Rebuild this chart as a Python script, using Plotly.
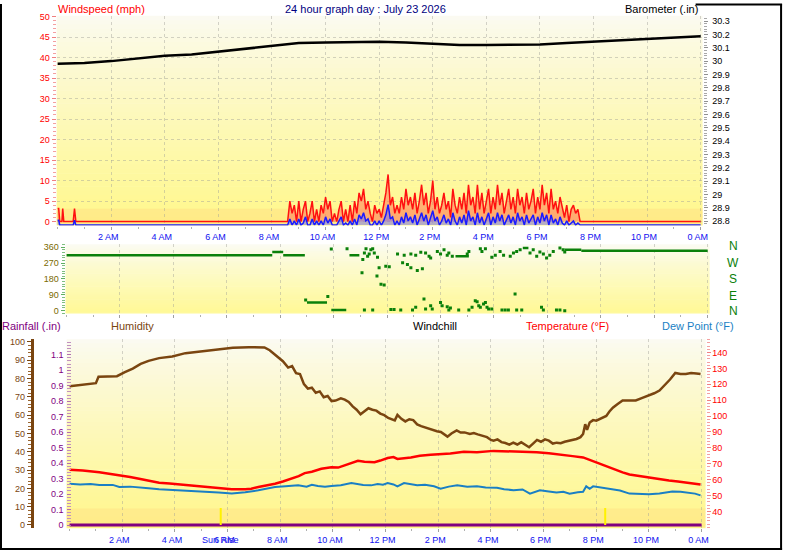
import plotly.graph_objects as go

W, H = 798, 554

# ---------------- data ----------------
hour_ticks = [2, 4, 6, 8, 10, 12, 14, 16, 18, 20, 22, 24]
hour_labels = ["2 AM", "4 AM", "6 AM", "8 AM", "10 AM", "12 PM",
               "2 PM", "4 PM", "6 PM", "8 PM", "10 PM", "0 AM"]

wind_ticks = [0, 5, 10, 15, 20, 25, 30, 35, 40, 45, 50]
baro_ticks = [28.8, 28.9, 29.0, 29.1, 29.2, 29.3, 29.4, 29.5, 29.6, 29.7,
              29.8, 29.9, 30.0, 30.1, 30.2, 30.3]
baro_tick_labels = ["28.8", "28.9", "29", "29.1", "29.2", "29.3", "29.4", "29.5",
                    "29.6", "29.7", "29.8", "29.9", "30", "30.1", "30.2", "30.3"]
dir_ticks = [0, 90, 180, 270, 360]
rain_ticks = [0, 0.1, 0.2, 0.3, 0.4, 0.5, 0.6, 0.7, 0.8, 0.9, 1.0, 1.1]
rain_tick_labels = ["0", "0.1", "0.2", "0.3", "0.4", "0.5", "0.6", "0.7", "0.8",
                    "0.9", "1", "1.1"]
hum_ticks = [0, 10, 20, 30, 40, 50, 60, 70, 80, 90, 100]
temp_ticks = [40, 50, 60, 70, 80, 90, 100, 110, 120, 130, 140]

baro_hours = list(range(25))
baro_vals = [29.98, 29.985, 30.00, 30.02, 30.04, 30.05, 30.07, 30.09, 30.11,
             30.135, 30.14, 30.145, 30.145, 30.14, 30.13, 30.12, 30.12, 30.12,
             30.125, 30.135, 30.145, 30.16, 30.17, 30.18, 30.187]

# wind speed (mph): early readings, then 5-minute readings from 8:30, then calm
wind_early_hours = [0.0, 0.04, 0.08, 0.16, 0.19, 0.23, 0.3, 0.58, 0.63, 0.68, 0.75]
gust_early = [3.2, 3.2, 0, 0, 3.2, 0, 0, 0, 3.2, 0, 0]
avg_early = [1.2, 1.2, 0, 0, 0, 0, 0, 0, 1.2, 0, 0]

wind_day_start = 8.5
gust_day = [
    0, 0, 5, 2, 4, 0,
    5, 0, 3, 5, 0, 2, 5, 0, 3, 0, 4, 2,
    6, 3, 5, 0, 2, 0, 3, 5, 0, 3, 0, 4,
    0, 5, 2, 7, 5, 8, 3, 5, 2, 0, 4, 2,
    3, 1, 4, 7, 11.5, 4, 6, 2, 4, 2, 6, 3,
    8, 4, 6, 3, 7, 2, 5, 9, 4, 7, 2, 5,
    10, 3, 6, 2, 4, 7, 3, 5, 1, 8, 4, 2,
    6, 3, 7, 2, 9, 4, 6, 2, 9, 3, 7, 2,
    5, 8, 2, 6, 3, 9, 4, 7, 2, 5, 8, 3,
    6, 2, 8, 4, 6, 2, 7, 3, 5, 8, 2, 6,
    3, 9, 4, 7, 2, 8, 3, 5, 2, 6, 3, 1,
    4, 0, 3, 4, 2, 3, 0, 0,
]
avg_day = [
    0, 0, 1.5, 0, 1, 0,
    1.5, 0, 0.5, 2, 0, 0, 1.5, 0, 1, 0, 1, 0,
    2, 0.5, 1.5, 0, 0, 0, 1, 2, 0, 0.5, 0, 1,
    0, 1.5, 0, 2.5, 1.5, 3, 1, 1.5, 0, 0, 1, 0,
    1, 0, 1, 2.5, 5, 1.5, 2, 0, 1, 0, 2, 0.5,
    3, 1, 2, 0.5, 2.5, 0, 1.5, 3, 1, 2.5, 0, 1.5,
    3.5, 1, 2, 0, 1, 2.5, 0.5, 1.5, 0, 3, 1, 0,
    2, 0.5, 2.5, 0, 3.5, 1, 2, 0, 3, 0.5, 2, 0,
    1.5, 3, 0, 2, 0.5, 3, 1, 2.5, 0, 1.5, 2.5, 0.5,
    2, 0, 3, 1, 2, 0, 2.5, 0.5, 1.5, 2.5, 0, 2,
    0.5, 3, 1, 2.5, 0, 2.5, 0.5, 1.5, 0, 2, 0.5, 0,
    1, 0, 0.5, 1, 0, 0.5, 0, 0,
]
wind_late_hours = [19.65, 24.0]
gust_late = [0, 0]
avg_late = [0, 0]

# wind direction (degrees): steady segments and scattered readings
dir_seg_start = [0.0, 7.70, 8.11, 9.0, 9.91, 10.59, 14.56, 17.08, 18.65, 19.27]
dir_seg_end = [7.70, 8.11, 8.92, 9.75, 10.47, 10.96, 15.06, 17.29, 19.27, 24.0]
dir_seg_deg = [315, 334, 315, 47, 4, 315, 309, 356, 347, 341]

dir_dot_hours = [
    8.95, 9.78, 9.91, 10.50, 11.06, 11.09, 11.15, 11.21, 11.27, 11.33, 11.39,
    11.46, 11.52, 11.64, 11.62, 11.70, 11.77, 11.89, 11.95, 12.08, 11.15, 11.46,
    12.14, 12.26,
    12.39, 12.58, 12.64, 12.76, 12.89, 12.89, 13.07, 13.13, 13.26, 13.32, 13.44,
    13.57, 13.63, 13.88, 14.00, 14.13, 14.25, 14.31, 14.44, 15.00, 15.06, 15.49,
    15.55, 15.68, 15.92, 16.05, 16.23, 16.36, 16.61, 16.73, 16.85, 16.98, 17.35,
    17.47, 17.60, 17.72, 17.85, 17.97, 18.09, 18.22, 18.47, 18.59, 18.65,
    12.51, 12.95, 13.07, 13.38, 13.44, 13.63, 13.69, 14.00, 14.06, 14.25, 14.31,
    14.37, 14.68, 15.06, 15.18, 15.30, 15.37, 15.43, 15.49, 15.61, 15.68, 15.74,
    15.80, 15.92, 16.30, 16.42, 16.54, 16.79, 16.85, 17.04, 17.78, 17.85, 18.34,
    18.47, 18.65,
]
dir_dot_degs = [
    60, 80, 351, 352, 216, 291, 328, 352, 309, 322, 347,
    352, 328, 304, 197, 244, 150, 146, 253, 249, 4, 4,
    7, 7,
    322, 272, 315, 262, 322, 244, 315, 229, 332, 238, 328,
    309, 300, 337, 322, 347, 315, 328, 309, 322, 337, 352,
    337, 352, 304, 315, 337, 315, 309, 328, 337, 347, 328,
    347, 309, 334, 322, 300, 315, 337, 356, 347, 334,
    4, 4, 19, 66, 9, 28, 9, 47, 28, 22, 4,
    15, 4, 4, 19, 56, 51, 28, 19, 38, 47, 19,
    9, 9, 4, 4, 4, 94, 4, 4, 19, 4, 4,
    4, 0,
]

rain_hours = [0, 24]
rain_vals = [0, 0]

hum_hours = [
    0.0, 0.25, 0.5, 0.75, 1.0, 1.1, 1.5, 1.8, 2.1, 2.4, 2.7, 3.0, 3.4, 3.9, 4.4,
    4.9, 5.3, 5.7, 6.2, 6.8, 7.4, 7.6, 7.9, 8.1, 8.3, 8.45, 8.6, 8.75, 8.9, 9.05,
    9.2, 9.35, 9.5, 9.65, 9.8, 9.95, 10.1, 10.3, 10.45, 10.6, 10.75, 10.9, 11.05,
    11.2, 11.35, 11.5, 11.65, 11.8, 11.95, 12.1, 12.25, 12.35, 12.45, 12.6, 12.75,
    12.9, 13.05, 13.2, 13.35, 13.5, 13.65, 13.8, 13.95, 14.1, 14.25, 14.35, 14.5,
    14.7, 14.85, 15.0, 15.2, 15.35, 15.5, 15.7, 15.85, 16.0, 16.1, 16.25, 16.4,
    16.55, 16.7, 16.85, 17.0, 17.15, 17.3, 17.45, 17.6, 17.75, 17.9, 18.05, 18.2,
    18.35, 18.5, 18.65, 18.8, 18.95, 19.1, 19.25, 19.4, 19.5, 19.58, 19.65, 19.75,
    19.88, 20.0, 20.2, 20.38, 20.5, 20.63, 20.8, 21.0, 21.13, 21.5, 21.75, 22.0,
    22.2, 22.4, 22.64, 22.8, 23.0, 23.2, 23.4, 23.6, 23.8, 23.96,
]
hum_vals = [
    75.8, 76.2, 76.8, 77.3, 77.5, 81.0, 81.3, 81.3, 83.5, 85.5, 88.0, 89.7, 91.2, 92.1, 93.9,
    94.8, 95.2, 96.0, 96.9, 97.2, 97.0, 95.5, 92.1, 89.5, 86.0, 86.8, 83.0, 82.5, 77.0, 74.5,
    75.0, 72.3, 73.0, 69.8, 70.5, 67.7, 68.0, 69.2, 68.5, 67.2, 64.8, 63.0, 60.5,
    62.0, 63.8, 63.0, 62.5, 60.9, 60.0, 58.5, 57.5, 57.2, 60.2, 58.0, 56.6,
    57.8, 57.3, 55.0, 54.0, 53.3, 52.5, 51.6, 51.2, 50.8, 49.0, 48.3, 50.0,
    51.7, 50.5, 50.6, 49.7, 50.2, 49.5, 48.8, 48.0, 46.5, 46.1, 46.8, 45.3,
    44.8, 43.9, 45.0, 44.0, 45.2, 44.0, 42.5, 44.5, 46.5, 45.5, 46.8, 46.1,
    44.5, 45.0, 44.7, 45.5, 46.0, 46.5, 47.0, 48.0, 49.7, 55.1, 52.0, 56.0,
    57.3, 57.0, 58.5, 59.6, 62.0, 64.1, 66.0, 68.0, 68.1, 68.1, 69.5, 70.8,
    72.0, 73.5, 76.8, 79.5, 83.1, 82.5, 82.5, 83.0, 82.8, 82.5,
]

temp_hours = [
    0, 0.5, 1.13, 1.5, 1.89, 2.3, 2.64, 3.0, 3.4, 3.8, 4.15, 4.5, 4.9, 5.3, 5.66,
    6.16, 6.67, 6.9, 7.17, 7.5, 7.8, 8.1, 8.43, 8.7, 8.93, 9.2, 9.56, 9.94, 10.2,
    10.57, 10.8, 10.95, 11.2, 11.58, 11.8, 12.08, 12.3, 12.45, 12.96, 13.3, 13.71,
    14.1, 14.46, 14.97, 15.47, 16.1, 16.5, 16.86, 17.3, 17.74, 18.2, 18.75, 19.1,
    19.5, 19.75, 20.0, 20.3, 20.63, 21.0, 21.26, 21.6, 22.0, 22.4, 22.76, 23.1,
    23.5, 23.96,
]
temp_vals = [
    66.3, 65.8, 64.7, 63.8, 62.6, 61.6, 60.5, 59.3, 58.0, 57.5, 57.0, 56.4, 55.7, 55.1, 54.5,
    53.9, 53.9, 54.3, 55.4, 56.2, 57.4, 58.8, 60.5, 62.2, 64.1, 65.0, 66.8, 67.8, 67.6,
    69.9, 71.0, 71.9, 71.3, 70.9, 72.0, 73.6, 74.2, 73.0, 74.0, 75.0, 75.7,
    76.0, 76.5, 77.5, 77.2, 78.1, 77.9, 77.8, 77.5, 77.2, 76.6, 75.3, 74.8,
    74.0, 72.6, 70.9, 69.0, 66.8, 64.6, 63.2, 62.3, 61.2, 60.3, 59.5, 58.8,
    57.8, 57.0,
]

dew_hours = [
    0, 0.4, 0.8, 1.13, 1.64, 1.89, 2.3, 2.64, 3.0, 3.4, 3.8, 4.15, 4.5, 4.9, 5.3,
    5.66, 6.16, 6.67, 7.17, 7.5, 7.8, 8.2, 8.68, 9.0, 9.2, 9.43, 9.7, 9.94, 10.3,
    10.7, 10.9, 11.15, 11.45, 11.7, 11.9, 12.08, 12.3, 12.45, 12.7, 13.0, 13.2,
    13.5, 13.84, 14.09, 14.4, 14.72, 15.1, 15.47, 15.8, 16.23, 16.5, 16.86, 17.2,
    17.48, 17.86, 18.2, 18.49, 18.75, 18.99, 19.3, 19.5, 19.62, 19.75, 19.88,
    20.1, 20.5, 20.9, 21.26, 21.6, 22.0, 22.4, 22.89, 23.2, 23.5, 23.75, 23.96,
]
dew_vals = [
    57.4, 57.0, 57.2, 56.6, 56.7, 55.4, 55.6, 54.9, 54.6, 53.9, 53.6, 52.9, 52.8, 52.3, 52.2,
    51.9, 51.2, 52.0, 53.3, 54.2, 55.4, 55.9, 56.4, 55.6, 56.8, 56.0, 55.5, 56.0, 56.5,
    57.8, 57.2, 56.6, 56.4, 57.2, 56.8, 57.8, 57.0, 55.8, 57.8, 57.0, 56.4,
    56.8, 55.8, 54.3, 55.6, 56.4, 55.5, 55.8, 55.0, 54.9, 54.0, 53.3, 53.8,
    51.2, 53.3, 52.6, 51.9, 52.3, 51.2, 52.0, 52.3, 55.8, 54.3, 55.8,
    55.2, 54.3, 53.2, 51.2, 51.0, 50.8, 51.3, 52.6, 52.4, 51.6, 51.2, 50.1,
]

sun_rise_hour = 5.74
sun_set_hour = 20.34
sun_mark_height = 0.11

# ---------------- helpers ----------------
def fx(p):
    return p / W


def fy(p):
    return 1 - p / H


FONT = "Liberation Sans, Arial, sans-serif"
fig = go.Figure()


def gradient(x0, x1, y0, y1, ctop, cbot, n=48):
    for i in range(n):
        t = i / (n - 1)
        t = t ** 0.85
        c = [round(ctop[k] + (cbot[k] - ctop[k]) * t) for k in range(3)]
        ya = y0 + (y1 - y0) * i / n
        yb = y0 + (y1 - y0) * (i + 1) / n + 0.6
        fig.add_shape(type="rect", xref="paper", yref="paper",
                      x0=fx(x0), x1=fx(x1), y0=fy(min(yb, y1)), y1=fy(ya),
                      fillcolor="rgb(%d,%d,%d)" % tuple(c), line_width=0,
                      layer="below")


TOP = (57, 707, 12, 224)
MID = (66, 714, 243, 313)
BOT = (67, 710, 339, 530)

gradient(TOP[0], TOP[1], TOP[2], TOP[3], (251, 250, 241), (255, 248, 140))
gradient(MID[0], MID[1], MID[2], MID[3], (251, 251, 242), (255, 249, 150))
gradient(BOT[0], BOT[1], BOT[2], BOT[3], (251, 250, 241), (255, 247, 140))
# dithered orange bands near the base of top and bottom panels
fig.add_shape(type="rect", xref="paper", yref="paper", x0=fx(TOP[0]), x1=fx(TOP[1]),
              y0=fy(223), y1=fy(207), fillcolor="rgba(255,200,120,0.28)",
              line_width=0, layer="below")
fig.add_shape(type="rect", xref="paper", yref="paper", x0=fx(BOT[0]), x1=fx(BOT[1]),
              y0=fy(529), y1=fy(510), fillcolor="rgba(255,200,120,0.22)",
              line_width=0, layer="below")

# ---------------- traces ----------------
wind_day_hours = [wind_day_start + i / 12 for i in range(len(gust_day))]
wind_hours = wind_early_hours + wind_day_hours + wind_late_hours
gust_vals = gust_early + gust_day + gust_late
avg_vals = avg_early + avg_day + avg_late

fig.add_trace(go.Scatter(x=wind_hours, y=gust_vals, xaxis="x", yaxis="y",
                         mode="lines", line=dict(color="#FF1010", width=1.5),
                         fill="tozeroy", fillcolor="rgba(255,120,90,0.55)",
                         hoverinfo="skip"))
fig.add_trace(go.Scatter(x=wind_hours, y=avg_vals, xaxis="x", yaxis="y3",
                         mode="lines", line=dict(color="#1A1AFF", width=1.5),
                         fill="tozeroy", fillcolor="rgba(110,110,255,0.5)",
                         hoverinfo="skip"))
fig.add_trace(go.Scatter(x=baro_hours, y=baro_vals, xaxis="x", yaxis="y2",
                         mode="lines", line=dict(color="#000000", width=2.5),
                         hoverinfo="skip"))

seg_x, seg_y = [], []
for s, e, d in zip(dir_seg_start, dir_seg_end, dir_seg_deg):
    seg_x += [s, e, None]
    seg_y += [d, d, None]
fig.add_trace(go.Scatter(x=seg_x, y=seg_y, xaxis="x2", yaxis="y4", mode="lines",
                         line=dict(color="#0A800A", width=2.5), connectgaps=False,
                         hoverinfo="skip"))
fig.add_trace(go.Scatter(x=dir_dot_hours, y=dir_dot_degs, xaxis="x2", yaxis="y4",
                         mode="markers",
                         marker=dict(color="#0A800A", size=3, symbol="square"),
                         hoverinfo="skip"))

fig.add_trace(go.Scatter(x=rain_hours, y=rain_vals, xaxis="x3", yaxis="y5",
                         mode="lines", line=dict(color="#800080", width=3),
                         hoverinfo="skip"))
for h in (sun_rise_hour, sun_set_hour):
    fig.add_trace(go.Scatter(x=[h, h], y=[0, sun_mark_height], xaxis="x3", yaxis="y5",
                             mode="lines", line=dict(color="#FFF200", width=2),
                             hoverinfo="skip"))
fig.add_trace(go.Scatter(x=hum_hours, y=hum_vals, xaxis="x3", yaxis="y6",
                         mode="lines", line=dict(color="#7A4510", width=2.5),
                         hoverinfo="skip"))
fig.add_trace(go.Scatter(x=temp_hours, y=temp_vals, xaxis="x3", yaxis="y7",
                         mode="lines", line=dict(color="#FF0000", width=2.5),
                         hoverinfo="skip"))
fig.add_trace(go.Scatter(x=dew_hours, y=dew_vals, xaxis="x3", yaxis="y7",
                         mode="lines", line=dict(color="#1A7FC4", width=2),
                         hoverinfo="skip"))

# ---------------- axes ----------------
GRID = "rgba(160,160,150,0.45)"


def xcommon(labels=True):
    return dict(tickmode="array", tickvals=hour_ticks, ticktext=hour_labels,
                showticklabels=labels,
                tickfont=dict(family=FONT, size=9, color="#1010F0"),
                ticks="outside", ticklen=3, tickcolor="#A0A0A0",
                minor=dict(ticks="outside", dtick=1, tick0=0, ticklen=2,
                           tickcolor="#B0B0B0", showgrid=False),
                showgrid=True, gridcolor=GRID, griddash="dot", gridwidth=1,
                zeroline=False, showline=False, fixedrange=True,
                ticklabelshift=-3)


fig.update_layout(
    width=W, height=H, margin=dict(l=0, r=0, t=0, b=0),
    paper_bgcolor="white", plot_bgcolor="rgba(0,0,0,0)", showlegend=False,
    font=dict(family=FONT),
    xaxis=dict(domain=[fx(TOP[0]), fx(TOP[1])], range=[-0.037, 24.07], anchor="y",
               **xcommon(True)),
    yaxis=dict(domain=[fy(TOP[3]), fy(TOP[2])], range=[-0.965, 50.17], anchor="x",
               tickmode="array", tickvals=wind_ticks,
               tickfont=dict(family=FONT, size=9, color="#FF0000"),
               ticks="outside", ticklen=4, tickcolor="#F08080",
               minor=dict(ticks="outside", dtick=1, tick0=0, ticklen=3,
                          tickcolor="#F4A0A0", showgrid=False),
               showgrid=True, gridcolor=GRID, griddash="dot",
               zeroline=False, showline=False),
    yaxis2=dict(overlaying="y", side="right", anchor="x", range=[28.768, 30.339],
                tickmode="array", tickvals=baro_ticks, ticktext=baro_tick_labels,
                tickfont=dict(family=FONT, size=9, color="#000000"),
                ticks="outside", ticklen=4, tickcolor="#909090",
                minor=dict(ticks="outside", dtick=0.02, tick0=28.8, ticklen=3,
                           tickcolor="#A8A8A8", showgrid=False),
                showgrid=False, zeroline=False, showline=False,
                ticklabelstandoff=3),
    yaxis3=dict(overlaying="y", anchor="x", range=[-0.12, 51.0], visible=False),
    xaxis2=dict(domain=[fx(MID[0]), fx(MID[1])], range=[-0.037, 24.07], anchor="y4",
                **xcommon(False)),
    yaxis4=dict(domain=[fy(MID[3]), fy(MID[2])], range=[-16.9, 376.9], anchor="x2",
                tickmode="array", tickvals=dir_ticks,
                tickfont=dict(family=FONT, size=9, color="#7A6A00"),
                ticks="outside", ticklen=4, tickcolor="#5FAF5F",
                minor=dict(ticks="outside", dtick=15, tick0=0, ticklen=3,
                           tickcolor="#7FBF7F", showgrid=False),
                showgrid=False, zeroline=False, showline=False),
    xaxis3=dict(domain=[fx(BOT[0]), fx(BOT[1])], range=[-0.113, 24.15], anchor="y5",
                **xcommon(True)),
    yaxis5=dict(domain=[fy(BOT[3]), fy(BOT[2])], range=[-0.021, 1.2], anchor="x3",
                tickmode="array", tickvals=rain_ticks, ticktext=rain_tick_labels,
                tickfont=dict(family=FONT, size=9, color="#800080"),
                ticks="inside", ticklen=4, tickcolor="#B070B0",
                minor=dict(ticks="inside", dtick=0.02, tick0=0, ticklen=4,
                           tickcolor="#C090C0", showgrid=False),
                showgrid=False, zeroline=False, showline=False,
                ticklabelstandoff=2),
    yaxis6=dict(overlaying="y5", anchor="free", position=fx(32), side="left",
                range=[-1.78, 101.46], tickmode="array", tickvals=hum_ticks,
                tickfont=dict(family=FONT, size=9, color="#7A4510"),
                ticks="outside", ticklen=4, tickcolor="#7A4510",
                minor=dict(ticks="outside", dtick=2, tick0=0, ticklen=3,
                           tickcolor="#9A6530", showgrid=False),
                showline=True, linecolor="#7A4510", linewidth=3,
                showgrid=False, zeroline=False),
    yaxis7=dict(overlaying="y5", anchor="x3", side="right", range=[29.4, 148.3],
                tickmode="array", tickvals=temp_ticks,
                tickfont=dict(family=FONT, size=9, color="#FF0000"),
                ticks="outside", ticklen=4, tickcolor="#F08080",
                minor=dict(ticks="outside", dtick=2, tick0=0, ticklen=3,
                           tickcolor="#F4A0A0", showgrid=False),
                showgrid=False, zeroline=False, showline=False),
)

# ---------------- text ----------------
def note(text, xp, yp, color, size=11, xanchor="left"):
    fig.add_annotation(text=text, x=fx(xp), y=fy(yp), xref="paper", yref="paper",
                       xanchor=xanchor, yanchor="middle", showarrow=False,
                       font=dict(family=FONT, size=size, color=color))


note("Windspeed (mph)", 56, 5, "#FF0000")
note("24 hour graph day : July 23 2026", 368, 5, "#000080", xanchor="center")
note("Barometer (.in)", 627, 5, "#000000")
note("Rainfall (.in)", 0, 326, "#800080")
note("Humidity", 110, 326, "#7A4510")
note("Windchill", 414, 326, "#000000")
note("Temperature (°F)", 527, 326, "#FF0000")
note("Dew Point (°F)", 664, 326, "#1A7FC4")
for letter, yp in zip(["N", "W", "S", "E", "N"], [245, 262, 278, 295, 310]):
    note(letter, 738, yp, "#0A800A", size=12, xanchor="center")

fig.add_annotation(text="Sun Rise", x=sun_rise_hour, y=fy(542), xref="x3", yref="paper",
                   xanchor="center", yanchor="middle", showarrow=False,
                   font=dict(family=FONT, size=9, color="#1010F0"))

# frame lines
for x0, y0, x1, y1 in [(1, 0, 1, 552), (786, 0, 786, 552), (0, 551, 787, 551),
                       (700, 0.5, 787, 0.5)]:
    fig.add_shape(type="line", xref="paper", yref="paper", x0=fx(x0), x1=fx(x1),
                  y0=fy(y0), y1=fy(y1), line=dict(color="black", width=2),
                  layer="above")

fig.write_html("out.html")
